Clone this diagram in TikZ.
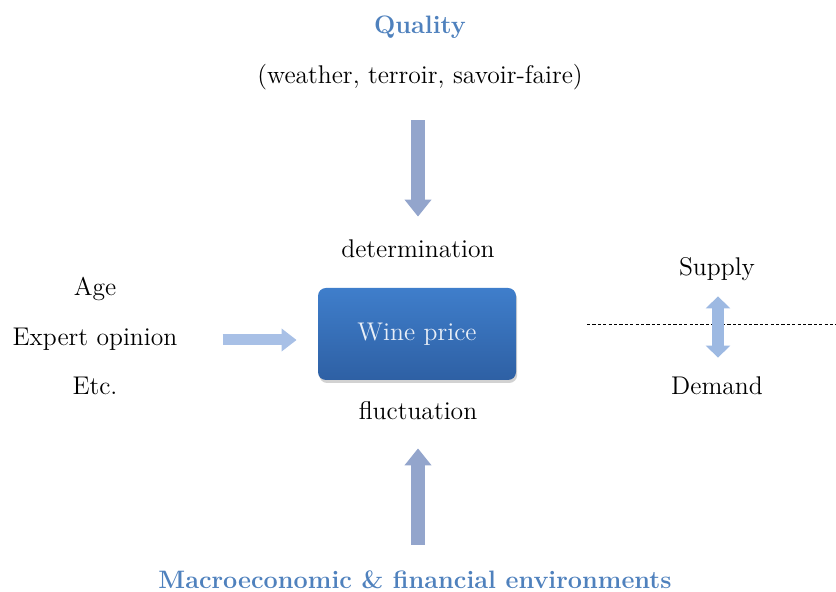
\documentclass[tikz,border=0pt]{standalone}
\usepackage{xcolor}
\usepackage{tikz}
\usetikzlibrary{arrows.meta, positioning, shadows}

\definecolor{titleblue}{HTML}{4F81BD}
\definecolor{pricetop}{HTML}{3F7ECB}
\definecolor{pricebot}{HTML}{2E60A4}
\definecolor{pricetext}{HTML}{E8EEF7}
\definecolor{vertarrow}{HTML}{93A5CC}
\definecolor{sidearrow}{HTML}{A8C0E6}
\definecolor{sdarrow}{HTML}{9DB9E2}

\begin{document}
\begin{tikzpicture}[x=0.5pt, y=-0.5pt,
  lbl/.style={inner sep=0pt, text height=9pt, text depth=3pt, yshift=-1.5pt,
              font=\fontsize{12.8}{15}\selectfont},
  title/.style={lbl, text=titleblue,
                font=\fontsize{12.6}{15}\selectfont\bfseries},
  price/.style={rectangle, rounded corners=4pt,
                minimum width=99pt, minimum height=46pt,
                top color=pricetop, bottom color=pricebot,
                text=pricetext, font=\fontsize{12.8}{15}\selectfont,
                drop shadow={shadow xshift=0.6pt, shadow yshift=-1.5pt,
                             opacity=0.25, fill=black!70}},
  vert/.style={vertarrow, line width=7pt,
               -{Triangle[width=13pt, length=8.5pt]}},
  side/.style={sidearrow, line width=5.5pt,
               -{Triangle[width=11pt, length=7.5pt]}},
  updown/.style={sdarrow, line width=6pt,
                 {Triangle[width=12pt, length=6pt]}-{Triangle[width=12pt, length=6pt]}}
]
  \useasboundingbox (0,0) rectangle (836,592);

  % quality, top
  \node[title] (qual) at (420,25) {Quality};
  \node[lbl] (cond) at (420,75) {(weather, terroir, savoir-faire)};
  \node[lbl] (det) at (418,249) {determination};

  % centre
  \node[price] (wp) at (417,334) {Wine price};
  \node[lbl] (fluct) at (418,411) {fluctuation};

  % bottom
  \node[title] (macro) at (415,580) {Macroeconomic \& financial environments};

  % left
  \node[lbl] (exp) at (95,337) {Expert opinion};
  \node[lbl, above=26.5pt of exp.center, anchor=center] (age) {Age};
  \node[lbl, below=23pt of exp.center, anchor=center] (etc) {Etc.};

  % right
  \node[lbl] (sup) at (717,267) {Supply};
  \node[lbl] (dem) at (717,386) {Demand};
  \draw[dashed, dash pattern=on 1.6pt off 1.1pt, line width=0.5pt]
    (587,325) -- (836,325);

  \draw[vert, shorten <=15pt, shorten >=11.5pt] (det.north |- cond.south) -- (det.north);
  \draw[vert, shorten <=13pt, shorten >=11pt] (fluct.south |- macro.north) -- (fluct.south);
  \draw[side, shorten <=22.5pt, shorten >=10.5pt] (exp.east) -- (wp.west |- exp.east);
  \draw[updown, shorten <=7pt, shorten >=9.5pt] ([xshift=0.5pt]sup.south) -- ([xshift=0.5pt]dem.north);
\end{tikzpicture}
\end{document}
